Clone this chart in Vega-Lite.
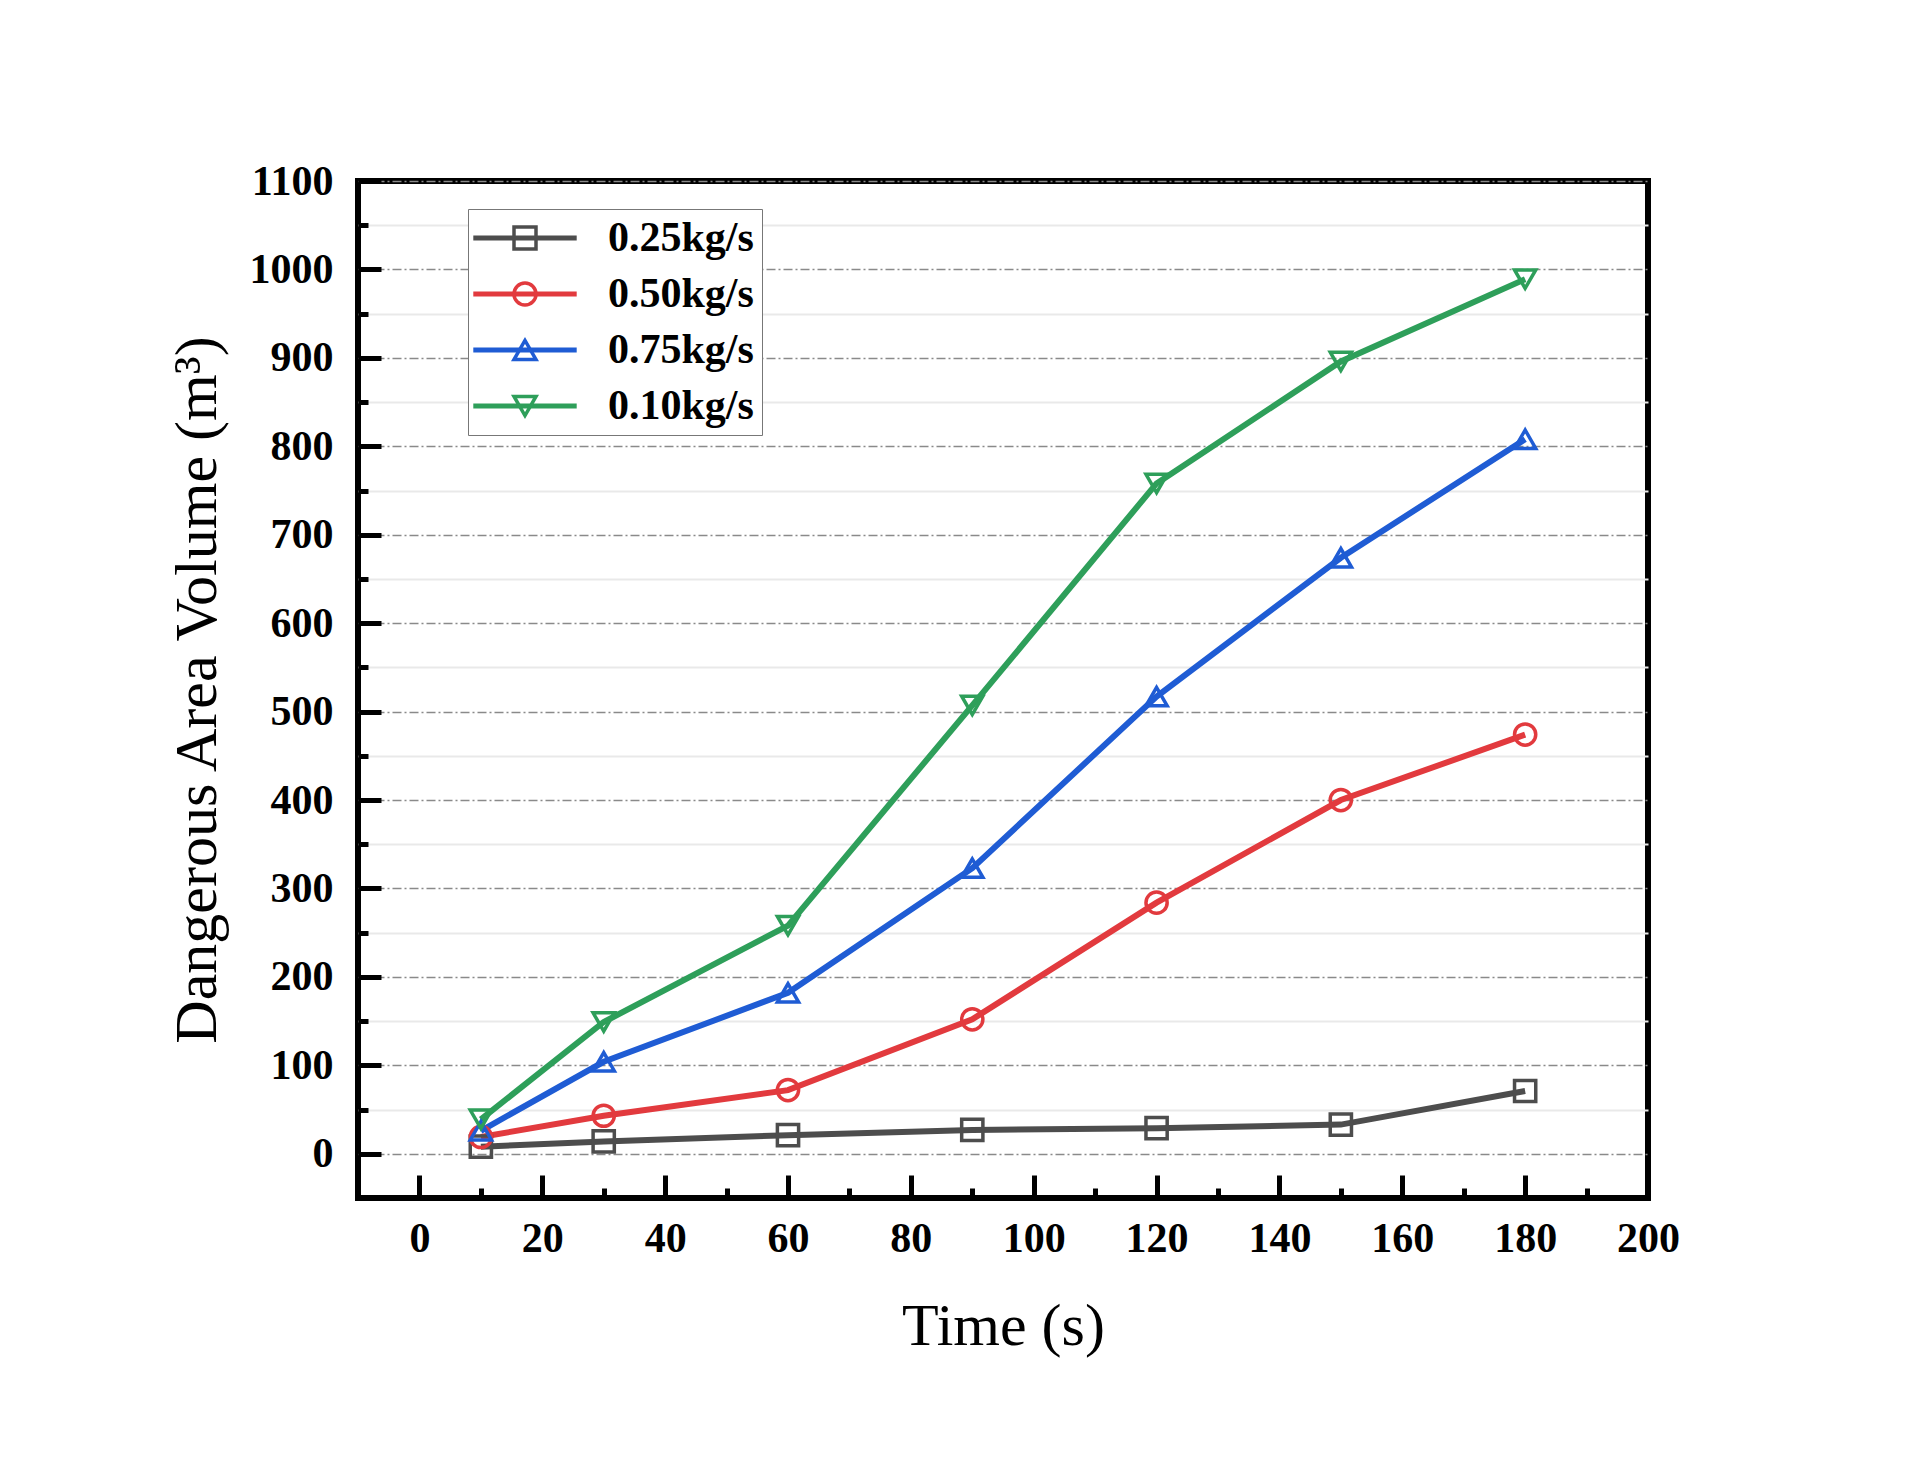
{
  "$schema": "https://vega.github.io/schema/vega-lite/v6.json",
  "width": 1290,
  "height": 1017,
  "autosize": "none",
  "padding": {"left": 358, "top": 181, "right": 283, "bottom": 264},
  "background": "white",
  "config": {
    "view": {"stroke": "black", "strokeWidth": 6},
    "font": "Liberation Serif"
  },
  "data": {
    "values": [
      {"time": 10, "rate": "0.25kg/s", "volume": 8},
      {"time": 30, "rate": "0.25kg/s", "volume": 14},
      {"time": 60, "rate": "0.25kg/s", "volume": 21},
      {"time": 90, "rate": "0.25kg/s", "volume": 27},
      {"time": 120, "rate": "0.25kg/s", "volume": 29},
      {"time": 150, "rate": "0.25kg/s", "volume": 33},
      {"time": 180, "rate": "0.25kg/s", "volume": 71},
      {"time": 10, "rate": "0.50kg/s", "volume": 19},
      {"time": 30, "rate": "0.50kg/s", "volume": 43},
      {"time": 60, "rate": "0.50kg/s", "volume": 72},
      {"time": 90, "rate": "0.50kg/s", "volume": 152},
      {"time": 120, "rate": "0.50kg/s", "volume": 284},
      {"time": 150, "rate": "0.50kg/s", "volume": 400},
      {"time": 180, "rate": "0.50kg/s", "volume": 474},
      {"time": 10, "rate": "0.75kg/s", "volume": 26},
      {"time": 30, "rate": "0.75kg/s", "volume": 104},
      {"time": 60, "rate": "0.75kg/s", "volume": 182},
      {"time": 90, "rate": "0.75kg/s", "volume": 323},
      {"time": 120, "rate": "0.75kg/s", "volume": 517},
      {"time": 150, "rate": "0.75kg/s", "volume": 674},
      {"time": 180, "rate": "0.75kg/s", "volume": 808},
      {"time": 10, "rate": "0.10kg/s", "volume": 39},
      {"time": 30, "rate": "0.10kg/s", "volume": 149},
      {"time": 60, "rate": "0.10kg/s", "volume": 258},
      {"time": 90, "rate": "0.10kg/s", "volume": 507},
      {"time": 120, "rate": "0.10kg/s", "volume": 758},
      {"time": 150, "rate": "0.10kg/s", "volume": 896},
      {"time": 180, "rate": "0.10kg/s", "volume": 989}
    ]
  },
  "layer": [
    {
      "mark": {"type": "line", "strokeWidth": 6},
      "encoding": {
        "x": {
          "field": "time",
          "type": "quantitative",
          "scale": {"domain": [-10, 200], "nice": false, "zero": false},
          "axis": {
            "values": [0, 20, 40, 60, 80, 100, 120, 140, 160, 180, 200],
            "title": "Time (s)",
            "titleFont": "Liberation Serif",
            "titleFontSize": 60,
            "titleFontWeight": "normal",
            "titleColor": "black",
            "titlePadding": 38,
            "labelFont": "Liberation Serif",
            "labelFontSize": 42,
            "labelFontWeight": "bold",
            "labelColor": "black",
            "labelPadding": 43,
            "labelFlush": false,
            "tickSize": -23,
            "tickWidth": 5,
            "tickColor": "black",
            "domain": false,
            "grid": false
          }
        },
        "y": {
          "field": "volume",
          "type": "quantitative",
          "scale": {"domain": [-50, 1100], "nice": false, "zero": false},
          "axis": {
            "values": [0, 100, 200, 300, 400, 500, 600, 700, 800, 900, 1000, 1100],
            "format": "d",
            "title": "Dangerous Area Volume (m³)",
            "titleFont": "Liberation Serif",
            "titleFontSize": 60,
            "titleFontWeight": "normal",
            "titleColor": "black",
            "titlePadding": 21,
            "labelFont": "Liberation Serif",
            "labelFontSize": 42,
            "labelFontWeight": "bold",
            "labelColor": "black",
            "labelPadding": 48,
            "labelFlush": false,
            "tickSize": -23,
            "tickWidth": 5,
            "tickColor": "black",
            "domain": false,
            "grid": true,
            "gridColor": "#8a8a8a",
            "gridWidth": 1.5,
            "gridDash": [9, 3, 2, 3]
          }
        },
        "color": {
          "field": "rate",
          "type": "nominal",
          "scale": {
            "domain": ["0.25kg/s", "0.50kg/s", "0.75kg/s", "0.10kg/s"],
            "range": ["#4d4d4d", "#e23a3e", "#1f5cd4", "#2e9f5a"]
          },
          "legend": {
            "title": null,
            "orient": "none",
            "legendX": 110,
            "legendY": 28,
            "zindex": 0,
            "padding": 8,
            "fillColor": "white",
            "strokeColor": "#777777",
            "rowPadding": 14,
            "symbolType": "M-4.7,0H4.7",
            "symbolSize": 484,
            "symbolOffset": 28,
            "symbolStrokeWidth": 5,
            "labelOffset": 62,
            "labelFont": "Liberation Serif",
            "labelFontSize": 42,
            "labelFontWeight": "bold",
            "labelColor": "black",
            "labelLimit": 400
          }
        }
      }
    },
    {
      "mark": {"type": "point", "filled": false, "size": 450, "strokeWidth": 3.5, "opacity": 1},
      "encoding": {
        "x": {
          "field": "time",
          "type": "quantitative",
          "axis": {
            "orient": "bottom",
            "values": [10, 30, 50, 70, 90, 110, 130, 150, 170, 190],
            "title": null,
            "labels": false,
            "tickSize": -10,
            "tickWidth": 5,
            "tickColor": "black",
            "domain": false,
            "grid": false
          }
        },
        "y": {
          "field": "volume",
          "type": "quantitative",
          "axis": {
            "orient": "left",
            "values": [50, 150, 250, 350, 450, 550, 650, 750, 850, 950, 1050],
            "title": null,
            "labels": false,
            "tickSize": -10,
            "tickWidth": 5,
            "tickColor": "black",
            "domain": false,
            "grid": true,
            "gridColor": "#e9e9e9",
            "gridWidth": 2
          }
        },
        "color": {
          "field": "rate",
          "type": "nominal",
          "legend": {
            "title": null,
            "orient": "none",
            "legendX": 110,
            "legendY": 28,
            "zindex": 1,
            "padding": 8,
            "fillColor": "transparent",
            "strokeColor": "transparent",
            "rowPadding": 14,
            "symbolSize": 484,
            "symbolOffset": 28,
            "symbolStrokeWidth": 3.5,
            "labelOffset": 62,
            "labelFont": "Liberation Serif",
            "labelFontSize": 42,
            "labelFontWeight": "bold",
            "labelOpacity": 0,
            "labelLimit": 400
          }
        },
        "shape": {
          "field": "rate",
          "type": "nominal",
          "scale": {
            "domain": ["0.25kg/s", "0.50kg/s", "0.75kg/s", "0.10kg/s"],
            "range": ["square", "circle", "triangle-up", "triangle-down"]
          },
          "legend": {
            "title": null,
            "orient": "none",
            "legendX": 110,
            "legendY": 28,
            "zindex": 1,
            "padding": 8,
            "fillColor": "transparent",
            "strokeColor": "transparent",
            "rowPadding": 14,
            "symbolSize": 484,
            "symbolOffset": 28,
            "symbolStrokeWidth": 3.5,
            "labelOffset": 62,
            "labelFont": "Liberation Serif",
            "labelFontSize": 42,
            "labelFontWeight": "bold",
            "labelOpacity": 0,
            "labelLimit": 400
          }
        }
      }
    }
  ],
  "resolve": {
    "axis": {"x": "independent", "y": "independent"},
    "legend": {"color": "independent", "shape": "independent"}
  }
}
